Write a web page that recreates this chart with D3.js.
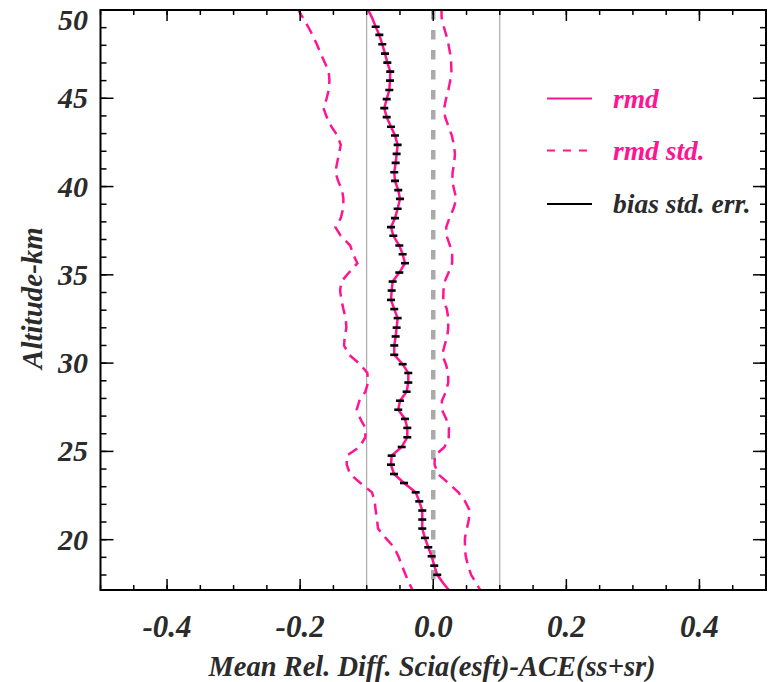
<!DOCTYPE html>
<html>
<head>
<meta charset="utf-8">
<script src="https://cdn.jsdelivr.net/npm/d3@7"></script>
<style>
    body { margin: 0; background: #fff; }
    svg text { font-family: "Liberation Serif", "DejaVu Serif", serif; font-weight: bold; font-style: italic; }
</style>
</head>
<body>
<svg id="chart" width="768" height="682"></svg>
<script>
    // Altitude grid (km) of the profile
    const altitudes = [50.09, 49.57, 49.05, 48.59, 48.06, 47.53, 47.02, 46.51, 46.00, 45.47,
        44.95, 44.44, 43.93, 43.39, 42.89, 42.36, 41.85, 41.34, 40.81, 40.32,
        39.80, 39.30, 38.74, 38.21, 37.70, 37.21, 36.66, 36.17, 35.66, 35.13,
        34.62, 34.11, 33.58, 33.06, 32.55, 32.01, 31.51, 31.00, 30.47, 29.94,
        29.44, 28.90, 28.38, 27.87, 27.36, 26.84, 26.33, 25.80, 25.25, 24.76,
        24.25, 23.72, 23.21, 22.68, 22.17, 21.65, 21.14, 20.63, 20.10, 19.57,
        19.06, 18.53, 18.01, 17.49, 16.98];

    // mean relative difference
    const rmd = [-0.099, -0.092, -0.0865, -0.081, -0.0766, -0.0725, -0.069, -0.0646, -0.065, -0.066,
        -0.070, -0.0736, -0.070, -0.0635, -0.0575, -0.0535, -0.055, -0.0565, -0.0586, -0.0575,
        -0.0526, -0.050, -0.0535, -0.0575, -0.0635, -0.060, -0.051, -0.046, -0.0425, -0.051,
        -0.061, -0.0625, -0.0635, -0.0586, -0.0535, -0.055, -0.0565, -0.0586, -0.0586, -0.046,
        -0.0375, -0.0375, -0.040, -0.050, -0.0526, -0.0425, -0.039, -0.039, -0.0474, -0.0625,
        -0.0635, -0.059, -0.044, -0.0264, -0.021, -0.0165, -0.0165, -0.0165, -0.0125, -0.0075,
        -0.0024, 0.0015, 0.006, 0.016, 0.027];

    // rmd - std (left dashed)
    const rmdStdLow = [-0.204, -0.196, -0.188, -0.1815, -0.175, -0.169, -0.163, -0.157, -0.156, -0.157,
        -0.1605, -0.165, -0.160, -0.153, -0.144, -0.139, -0.1415, -0.1445, -0.147, -0.143,
        -0.137, -0.135, -0.1355, -0.139, -0.147, -0.139, -0.1248, -0.1204, -0.114, -0.1266,
        -0.138, -0.140, -0.138, -0.135, -0.1316, -0.1305, -0.133, -0.134, -0.1265, -0.110,
        -0.099, -0.098, -0.102, -0.111, -0.115, -0.1095, -0.102, -0.102, -0.111, -0.130,
        -0.130, -0.125, -0.1095, -0.092, -0.088, -0.0865, -0.0845, -0.083, -0.0716, -0.059,
        -0.0524, -0.047, -0.0416, -0.0356, -0.029];

    // rmd + std (right dashed)
    const rmdStdHigh = [0.0123, 0.0126, 0.0159, 0.0194, 0.0228, 0.0254, 0.0269, 0.0273, 0.0255, 0.0227,
        0.0191, 0.0164, 0.0179, 0.0231, 0.0279, 0.0311, 0.0326, 0.0315, 0.0291, 0.0285,
        0.0315, 0.0347, 0.0303, 0.0242, 0.0195, 0.0201, 0.0251, 0.0284, 0.0284, 0.0230,
        0.0173, 0.0153, 0.0150, 0.0204, 0.0225, 0.0225, 0.0212, 0.017, 0.0135, 0.019,
        0.0225, 0.0225, 0.019, 0.013, 0.013, 0.0195, 0.0236, 0.0233, 0.017, 0.0023,
        0.002, 0.007, 0.0227, 0.0378, 0.0479, 0.0548, 0.0535, 0.0505, 0.0476, 0.0476,
        0.0488, 0.0523, 0.0569, 0.0654, 0.073];

    // bias standard error (half width of the black bars), none outside the plotted range
    const biasStdErr = [null, null,
        0.006, 0.006, 0.006, 0.006, 0.006, 0.006, 0.006, 0.006, 0.006, 0.006,
        0.006, 0.006, 0.006, 0.006, 0.006, 0.006, 0.006, 0.006, 0.006, 0.006,
        0.006, 0.006, 0.006, 0.006, 0.006, 0.006, 0.006, 0.006, 0.006, 0.006,
        0.006, 0.006, 0.006, 0.006, 0.006, 0.006, 0.006, 0.006, 0.006, 0.006,
        0.006, 0.006, 0.006, 0.006, 0.006, 0.006, 0.006, 0.006, 0.006, 0.006,
        0.006, 0.006, 0.006, 0.006, 0.006, 0.006, 0.006, 0.006, 0.006, 0.006,
        0.006, null, null];

    const xTickValues = [-0.4, -0.2, 0.0, 0.2, 0.4];
    const yTickValues = [20, 25, 30, 35, 40, 45, 50];
    const refLines = [-0.1, 0.1];

    const legendItems = [
        { label: 'rmd', color: '#ff1493', dash: null, text: '#ff1493' },
        { label: 'rmd std.', color: '#ff1493', dash: '8,8', text: '#ff1493' },
        { label: 'bias std. err.', color: '#000', dash: null, text: '#2b2b2b' }
    ];

    const PINK = '#ff1493';
    const TEXT = '#2b2b2b';
    const margin = { left: 100.5, right: 766, top: 10, bottom: 590 };

    const svg = d3.select('#chart');

    const x = d3.scaleLinear().domain([-0.5, 0.5]).range([margin.left, margin.right]);
    const y = d3.scaleLinear().domain([17.15, 50]).range([margin.bottom, margin.top]);

    svg.append('defs').append('clipPath').attr('id', 'plot-clip')
        .append('rect')
        .attr('x', margin.left).attr('y', margin.top)
        .attr('width', margin.right - margin.left).attr('height', margin.bottom - margin.top);

    const rows = altitudes.map((a, i) => ({
        alt: a, rmd: rmd[i], lo: rmdStdLow[i], hi: rmdStdHigh[i], err: biasStdErr[i]
    }));

    const plot = svg.append('g').attr('clip-path', 'url(#plot-clip)');

    // thin reference lines at +-0.1
    plot.selectAll('.ref')
        .data(refLines)
        .enter()
        .append('line')
        .attr('x1', d => x(d)).attr('x2', d => x(d))
        .attr('y1', y(50)).attr('y2', y(17.15))
        .attr('stroke', '#999')
        .attr('stroke-width', 1);

    // dashed zero line
    plot.append('line')
        .attr('x1', x(0)).attr('x2', x(0))
        .attr('y1', y(50)).attr('y2', y(17.15))
        .attr('stroke', '#aaa')
        .attr('stroke-width', 4.5)
        .attr('stroke-dasharray', '9.5,10.5');

    const lineOf = key => d3.line().x(d => x(d[key])).y(d => y(d.alt));

    ['lo', 'hi'].forEach(key => {
        plot.append('path')
            .datum(rows)
            .attr('d', lineOf(key))
            .attr('fill', 'none')
            .attr('stroke', PINK)
            .attr('stroke-width', 2.5)
            .attr('stroke-dasharray', '11,7');
    });

    plot.append('path')
        .datum(rows)
        .attr('d', lineOf('rmd'))
        .attr('fill', 'none')
        .attr('stroke', PINK)
        .attr('stroke-width', 2.5);

    plot.selectAll('.err')
        .data(rows.filter(d => d.err !== null))
        .enter()
        .append('line')
        .attr('class', 'err')
        .attr('x1', d => x(d.rmd - d.err))
        .attr('x2', d => x(d.rmd + d.err))
        .attr('y1', d => y(d.alt))
        .attr('y2', d => y(d.alt))
        .attr('stroke', '#000')
        .attr('stroke-width', 2.6);

    // --- axes: box with inward ticks on all sides ---
    const axisG = svg.append('g');
    const xMinor = d3.range(-0.5, 0.5001, 0.05).map(v => +v.toFixed(2));
    const yMinor = d3.range(18, 50.001, 1);

    const drawTicks = (vals, scale, len, horizontal) => {
        vals.forEach(v => {
            if (horizontal) {
                const px = scale(v);
                axisG.append('line').attr('x1', px).attr('x2', px)
                    .attr('y1', margin.bottom).attr('y2', margin.bottom - len)
                    .attr('stroke', '#000').attr('stroke-width', 1.5);
                axisG.append('line').attr('x1', px).attr('x2', px)
                    .attr('y1', margin.top).attr('y2', margin.top + len)
                    .attr('stroke', '#000').attr('stroke-width', 1.5);
            } else {
                const py = scale(v);
                axisG.append('line').attr('x1', margin.left).attr('x2', margin.left + len)
                    .attr('y1', py).attr('y2', py)
                    .attr('stroke', '#000').attr('stroke-width', 1.5);
                axisG.append('line').attr('x1', margin.right).attr('x2', margin.right - len)
                    .attr('y1', py).attr('y2', py)
                    .attr('stroke', '#000').attr('stroke-width', 1.5);
            }
        });
    };
    drawTicks(xMinor, x, 5, true);
    drawTicks(xTickValues, x, 11, true);
    drawTicks(yMinor, y, 6, false);
    drawTicks(yTickValues, y, 13, false);

    axisG.append('rect')
        .attr('x', margin.left).attr('y', margin.top)
        .attr('width', margin.right - margin.left).attr('height', margin.bottom - margin.top)
        .attr('fill', 'none').attr('stroke', '#000').attr('stroke-width', 2);

    // tick labels
    svg.selectAll('.xlab')
        .data(xTickValues)
        .enter()
        .append('text')
        .attr('x', d => x(d))
        .attr('y', 637)
        .attr('text-anchor', 'middle')
        .attr('font-size', 31)
        .attr('fill', TEXT)
        .text(d => d3.format('.1f')(d).replace('−', '-'));

    svg.selectAll('.ylab')
        .data(yTickValues)
        .enter()
        .append('text')
        .attr('x', 88)
        .attr('y', d => Math.max(y(d), 20) + 10)
        .attr('text-anchor', 'end')
        .attr('font-size', 30)
        .attr('fill', TEXT)
        .text(d => d);

    // axis titles
    svg.append('text')
        .attr('x', 432)
        .attr('y', 676)
        .attr('text-anchor', 'middle')
        .attr('font-size', 28.5)
        .attr('fill', TEXT)
        .text('Mean Rel. Diff. Scia(esft)-ACE(ss+sr)');

    svg.append('text')
        .attr('transform', 'translate(42,298) rotate(-90)')
        .attr('text-anchor', 'middle')
        .attr('font-size', 29)
        .attr('fill', TEXT)
        .text('Altitude-km');

    // legend
    const legend = svg.append('g');
    const legendY = [98.5, 150.5, 204];
    legendItems.forEach((item, i) => {
        legend.append('line')
            .attr('x1', 547).attr('x2', 592)
            .attr('y1', legendY[i]).attr('y2', legendY[i])
            .attr('stroke', item.color)
            .attr('stroke-width', 2.2)
            .attr('stroke-dasharray', item.dash);
        legend.append('text')
            .attr('x', 613)
            .attr('y', legendY[i] + 9)
            .attr('font-size', 27.5)
            .attr('fill', item.text)
            .text(item.label);
    });
</script>
</body>
</html>
